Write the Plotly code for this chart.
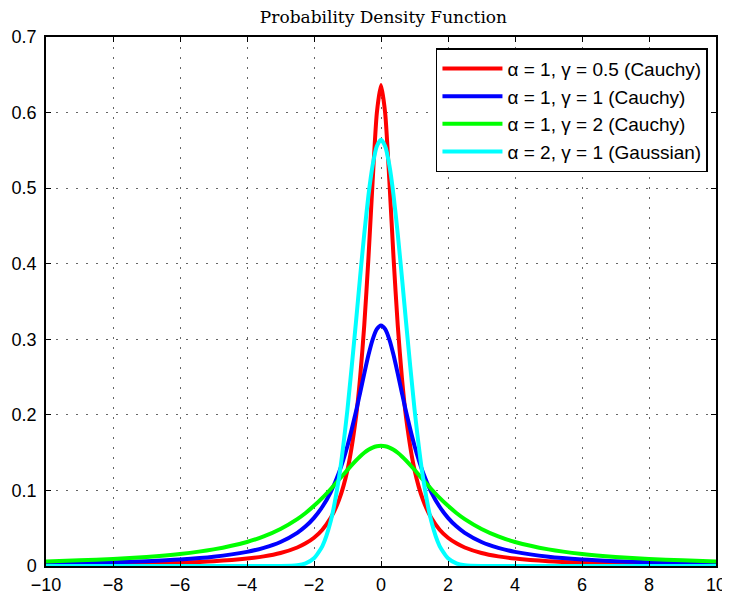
import plotly.graph_objects as go

# one-sided x grid (curves are symmetric about 0)
x_half = [0, 0.125, 0.25, 0.375, 0.5, 0.625, 0.75, 1, 1.25, 1.5, 1.75, 2, 2.25, 2.5, 3, 3.5, 4, 5, 6, 7, 8, 9, 10]

cauchy_g05 = [0.6366, 0.5992, 0.5093, 0.4074, 0.3183, 0.2484, 0.1959, 0.1273, 0.0878, 0.0637, 0.0480, 0.0374,
              0.0300, 0.0245, 0.0172, 0.0127, 0.0098, 0.0063, 0.0044, 0.0032, 0.0025, 0.0020, 0.0016]
cauchy_g1 = [0.3183, 0.3134, 0.2996, 0.2791, 0.2546, 0.2289, 0.2037, 0.1592, 0.1242, 0.0979, 0.0784, 0.0637,
             0.0525, 0.0439, 0.0318, 0.0240, 0.0187, 0.0122, 0.0086, 0.0064, 0.0049, 0.0039, 0.0032]
cauchy_g2 = [0.1592, 0.1585, 0.1567, 0.1538, 0.1498, 0.1450, 0.1395, 0.1273, 0.1144, 0.1019, 0.0901, 0.0796,
             0.0702, 0.0621, 0.0490, 0.0392, 0.0318, 0.0220, 0.0159, 0.0120, 0.0094, 0.0075, 0.0061]
gauss_g1 = [0.5642, 0.5554, 0.5300, 0.4902, 0.4394, 0.3817, 0.3215, 0.2076, 0.1182, 0.0595, 0.0264, 0.0103,
            0.0036, 0.0011, 0.0001, 0, 0, 0, 0, 0, 0, 0, 0]

series_names = ["α = 1, γ = 0.5 (Cauchy)", "α = 1, γ = 1 (Cauchy)",
                "α = 1, γ = 2 (Cauchy)", "α = 2, γ = 1 (Gaussian)"]
series_values = [cauchy_g05, cauchy_g1, cauchy_g2, gauss_g1]
colors = ["#ff0000", "#0000ff", "#00ff00", "#00ffff"]

x_ticks = [-10, -8, -6, -4, -2, 0, 2, 4, 6, 8, 10]
y_ticks = [0, 0.1, 0.2, 0.3, 0.4, 0.5, 0.6, 0.7]


def mirror(xs, ys):
    fx = [-v for v in reversed(xs[1:])] + list(xs)
    fy = list(reversed(ys[1:])) + list(ys)
    return fx, fy


fig = go.Figure()
for name, vals, col in zip(series_names, series_values, colors):
    fx, fy = mirror(x_half, vals)
    fig.add_trace(go.Scatter(x=fx, y=fy, mode="lines", name=name,
                             line=dict(color=col, width=4, shape="spline", smoothing=0.6)))

axis_common = dict(showline=True, linecolor="black", linewidth=1.5, mirror="ticks",
                   ticks="inside", ticklen=5, tickcolor="black", automargin=False,
                   showgrid=True, gridcolor="#666666", griddash="2px,8px", gridwidth=1,
                   zeroline=False, tickfont=dict(family="Liberation Sans, Arial", size=18, color="black"))

fig.update_layout(
    width=722, height=587,
    margin=dict(l=38, r=14, t=29, b=29),
    paper_bgcolor="white", plot_bgcolor="white",
    title=dict(text="Probability Density Function", x=0.52, xanchor="center",
               yref="container", y=0.994, yanchor="top", pad=dict(t=0, b=0, l=0, r=0),
               font=dict(family="DejaVu Serif, Liberation Serif", size=17, color="black")),
    xaxis=dict(range=[-10, 10], tickvals=x_ticks, ticklabelstandoff=2, **axis_common),
    yaxis=dict(range=[0, 0.7], tickvals=y_ticks, ticklabelstandoff=4, **axis_common),
    legend=dict(x=0.988, xanchor="right", y=0.979, yanchor="top",
                bgcolor="white", bordercolor="black", borderwidth=1.5, itemwidth=60,
                font=dict(family="Liberation Sans, Arial", size=19, color="black")),
    showlegend=True,
)

fig.write_html("out.html")
